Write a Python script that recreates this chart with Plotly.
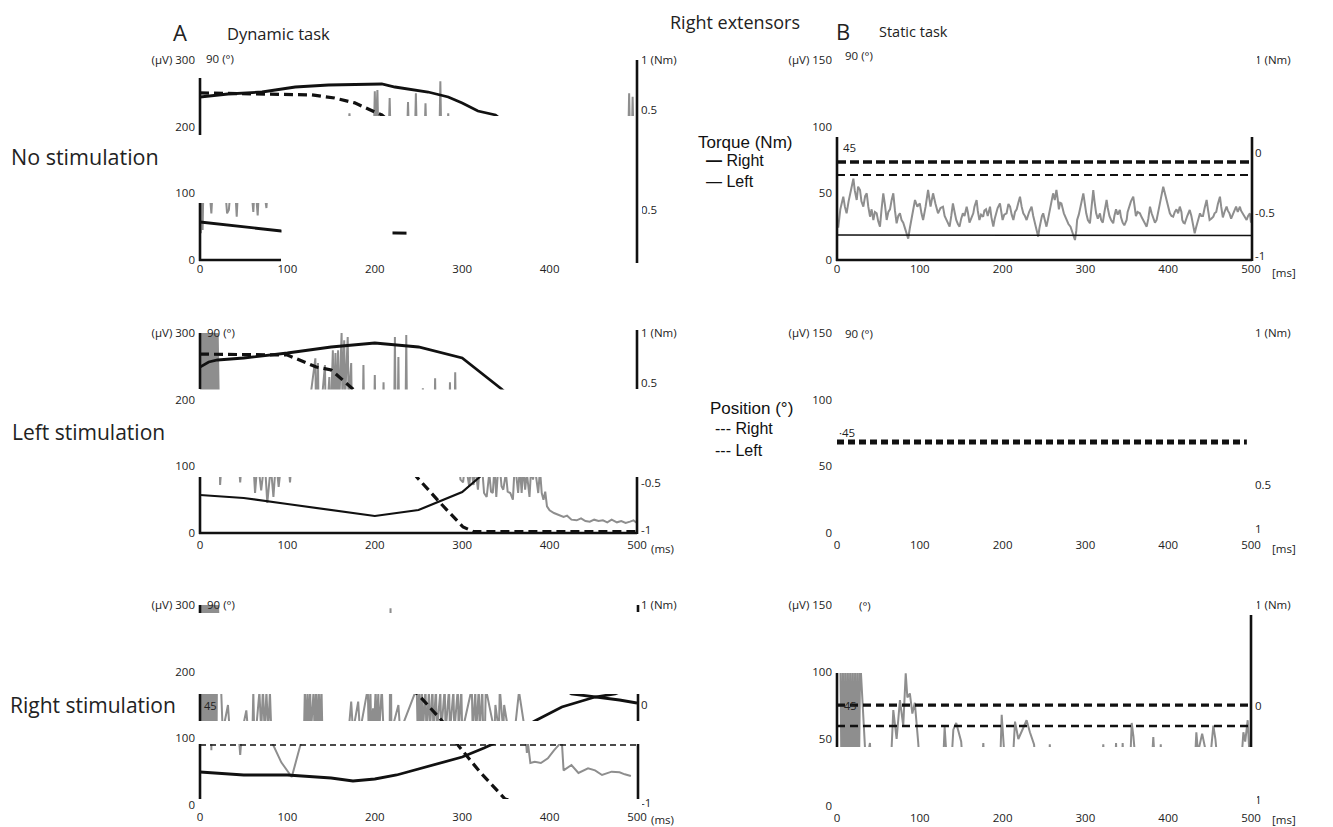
import plotly.graph_objects as go

W, H = 1333, 827

# ================= DATA =================
# ---- A1: dynamic task, no stimulation ----
a1_tqr_t = [0, 32, 71, 109, 147, 185, 208, 223, 261, 284, 300, 318, 338, 360, 400, 450, 500]
a1_tqr_nm = [0.63, 0.66, 0.68, 0.73, 0.75, 0.76, 0.76, 0.73, 0.68, 0.63, 0.57, 0.49, 0.45, 0.30, 0.10, 0.00, -0.05]
a1_tql_t = [0, 20, 50, 93, 150, 230, 300]
a1_tql_nm = [-0.62, -0.64, -0.67, -0.71, -0.72, -0.73, -0.74]
a1_posr_t = [0, 71, 128, 154, 177, 200, 208, 230]
a1_posr_deg = [75.2, 74.7, 74.3, 72.9, 70.7, 66.6, 65.3, 58]
a1_emg_t = [0, 1, 2, 3, 4, 6, 10, 13, 15, 20, 28, 31, 33, 36, 40, 42, 44, 50, 58, 61, 63, 66, 68, 72, 76, 78,
            85, 93, 120, 150, 169, 171, 173, 190, 199, 200, 201, 203, 204, 210, 216, 217, 218, 230, 237, 238,
            239, 246, 247, 248, 257, 258, 259, 274, 275, 276, 283, 284, 285, 300, 400, 490, 491, 492, 494,
            495, 496, 500]
a1_emg_uv = [120, 40, 120, 45, 120, 110, 120, 70, 120, 115, 120, 70, 75, 120, 115, 65, 120, 125, 120, 72, 120, 67,
             120, 118, 78, 120, 125, 120, 150, 170, 180, 220, 180, 185, 190, 253, 190, 255, 190, 190, 190, 243,
             190, 190, 190, 237, 190, 190, 250, 190, 190, 235, 190, 190, 268, 190, 190, 220, 190, 180, 160, 180,
             250, 180, 180, 245, 180, 180]

# ---- A2: dynamic task, left stimulation ----
a2_tqr_t = [0, 10, 20, 50, 100, 150, 200, 250, 300, 325, 345, 375, 400, 450, 500]
a2_tqr_nm = [0.66, 0.71, 0.73, 0.75, 0.80, 0.86, 0.90, 0.86, 0.75, 0.58, 0.44, 0.20, 0.05, -0.10, -0.20]
a2_tql_t = [0, 50, 100, 150, 200, 250, 300, 320, 350, 400, 500]
a2_tql_nm = [-0.62, -0.65, -0.71, -0.77, -0.83, -0.77, -0.59, -0.44, -0.20, 0.10, 0.30]
a2_posr_t = [0, 100, 133, 150, 175, 200, 225, 248, 275, 301, 313, 330, 500]
a2_posr_deg = [80.5, 80.1, 74.7, 73.4, 64.8, 52, 38, 25.2, 13.5, 2.7, 0.6, 0.6, 0.6]
a2_emg_t = [0, 1, 2, 3, 4, 5, 6, 7, 8, 9, 10, 11, 12, 13, 14, 15, 16, 17, 18, 19, 20,
            23, 26, 43, 46, 49, 60, 63, 66, 70, 74, 77, 81, 84, 87, 90, 95, 100, 103, 106, 120,
            132, 133, 135, 136, 143, 144, 148, 149, 152, 153, 155, 156, 158, 159, 162, 163, 165, 166,
            169, 170, 173, 174, 186, 187, 188, 199, 200, 201, 209, 210, 211, 222, 223, 224, 226, 227,
            228, 235, 236, 237, 254, 255, 256, 268, 269, 270, 285, 286, 287, 291, 292, 293,
            296, 298, 301, 303, 305, 308, 310, 313, 315, 318, 320, 323, 325, 328, 331, 333, 335, 337, 339,
            341, 343, 345, 347, 350, 352, 355, 358, 360, 362, 364, 366, 368, 370, 372, 374, 377, 379, 381,
            383, 385, 387, 389, 391, 393, 395, 397, 400, 405, 410, 416, 420, 425, 431, 436, 441, 446,
            451, 456, 461, 466, 471, 477, 482, 487, 492, 496, 500]
a2_emg_uv = [320, 150, 320, 150, 320, 150, 320, 150, 320, 150, 320, 150, 320, 150, 320, 150, 320, 150, 320, 150, 320,
             72, 130, 130, 76, 130, 130, 60, 110, 64, 110, 45, 100, 54, 110, 69, 130, 130, 76, 130, 140,
             262, 150, 255, 150, 252, 150, 234, 150, 274, 180, 270, 180, 274, 180, 300, 200, 289, 200,
             294, 200, 255, 150, 150, 252, 150, 150, 237, 150, 150, 226, 150, 150, 294, 150, 150, 264,
             150, 150, 297, 150, 150, 217, 150, 150, 232, 150, 150, 226, 150, 150, 241, 150,
             100, 80, 76, 100, 95, 70, 100, 72, 100, 65, 100, 95, 60, 54, 90, 62, 60, 100, 54,
             95, 100, 70, 65, 90, 62, 60, 50, 100, 85, 60, 100, 60, 100, 65, 90, 54, 100, 80,
             100, 76, 60, 95, 60, 50, 62, 40, 34, 30, 27, 24, 26, 20, 19, 22, 18, 17,
             20, 18, 19, 16, 20, 16, 18, 15, 17, 19, 15]

# ---- A3: dynamic task, right stimulation ----
a3_tqr_t = [0, 100, 200, 300, 350, 400, 425, 452, 480, 500]
a3_tqr_nm = [0.60, 0.70, 0.85, 0.60, 0.45, 0.25, 0.11, 0.08, 0.05, 0.02]
a3_tql_t = [0, 50, 100, 150, 175, 200, 225, 250, 300, 325, 335, 360, 383, 414, 452, 475, 500]
a3_tql_nm = [-0.67, -0.70, -0.70, -0.73, -0.76, -0.74, -0.70, -0.64, -0.52, -0.43, -0.39, -0.28, -0.16,
             -0.02, 0.08, 0.11, 0.20]
a3_posr_t = [0, 100, 150, 200, 249, 277, 294, 320, 349, 380, 500]
a3_posr_deg = [80, 78, 72, 62, 50, 37.8, 27.5, 15, 2.7, 0, 0]
a3_posl_t = [0, 500]
a3_posl_deg = [27.0, 27.0]
a3_emg_t = [0, 1, 2, 3, 4, 5, 6, 7, 8, 9, 10, 11, 12, 13, 14, 15, 16, 17, 18, 19, 20,
            26, 32, 34, 44, 46, 48, 53, 55, 60, 61, 62, 64, 68, 70, 72, 74, 76, 78, 80, 82, 93, 105, 110, 116,
            119, 120, 121, 123, 124, 126, 127, 130, 131, 133, 134, 136, 137, 139, 140, 170, 173, 175, 181, 183,
            192, 193, 195, 196, 198, 199, 201, 202, 204, 205, 208, 210, 217, 218, 219, 227, 229,
            248, 249, 251, 252, 254, 255, 258, 259, 262, 263, 266, 267, 270, 271, 275, 276, 280, 281, 285, 286,
            290, 291, 295, 296, 299, 300, 311, 312, 315, 316, 319, 320, 323, 324, 326, 327,
            337, 338, 342, 343, 347, 348, 353, 354, 360, 365, 372, 374, 375, 378, 383, 390, 398, 405, 414,
            416, 425, 433, 444, 452, 460, 471, 480, 486, 493, 500]
a3_emg_uv = [320, 110, 320, 110, 320, 110, 320, 110, 320, 110, 320, 110, 320, 82, 320, 110, 320, 110, 320, 110, 320,
             110, 150, 110, 110, 75, 110, 142, 110, 110, 170, 110, 110, 170, 110, 175, 110, 170, 110, 170, 95, 64,
             42, 67, 95,
             110, 175, 110, 170, 110, 175, 110, 172, 110, 175, 110, 170, 110, 175, 110, 110, 155, 110, 155, 110,
             175, 110, 170, 110, 145, 110, 175, 110, 168, 110, 175, 110, 110, 295, 110, 150, 110,
             175, 110, 175, 110, 172, 110, 175, 110, 170, 110, 175, 110, 175, 110, 170, 110, 175, 110, 175, 110,
             172, 110, 175, 110, 175, 110, 175, 110, 170, 110, 175, 110, 175, 110, 110,
             175, 110, 150, 110, 175, 110, 150, 110, 110, 110, 170, 110, 78, 95, 63, 65, 63, 70, 82,
             95, 52, 60, 48, 55, 52, 45, 50, 49, 46, 43.5]

# ---- B1: static task, no stimulation ----
b1_posr_t = [0, 500]
b1_posr_deg = [44.1, 44.1]
b1_posl_t = [0, 500]
b1_posl_deg = [38.3, 38.3]
b1_tql_t = [0, 250, 500]
b1_tql_nm = [-0.75, -0.75, -0.755]
b1_emg_t = [0, 1.6, 4, 7.6, 9.5, 11.6, 14, 16, 19.8, 21.5, 23.8, 25.5, 27.8, 29.5, 31.8, 34, 35.9, 37.8, 39.9,
            41.8, 43.9, 45.8, 47.9, 49.8, 51.9, 53.8, 55.9, 58, 60, 62, 64, 66, 68, 70, 72, 74, 76, 78, 80,
            83, 86, 88, 90, 92, 94.2, 97, 100, 102, 104, 107, 110, 113, 116, 119, 122, 125, 128, 130, 132,
            134, 136, 138, 140, 142, 144, 146, 148, 150, 152, 154, 156.6, 158, 160, 162, 164.6, 166, 168.6,
            170, 172, 174, 176.6, 178, 180, 182, 184.8, 186.5, 188.8, 190.5, 192, 194, 196.8, 198.5, 200, 202,
            204.8, 207, 209, 211, 213, 215, 217, 219, 221, 223, 225, 227, 229, 232, 235, 237, 239, 241, 243,
            244.5, 246, 247.5, 249, 251, 253, 255, 257, 259, 261, 263, 265, 266.5, 268, 269.5, 271, 274, 277,
            279.5, 282, 284.5, 287.4, 289, 290, 292, 293.5, 295.5, 297.5, 299, 301, 303, 305.5, 307.5, 309.5,
            311, 313, 315, 317.6, 319, 321, 323, 325.6, 327, 329, 331, 333.6, 335, 337, 339, 341.6, 343, 345,
            347, 349.8, 351, 353, 355, 357.8, 359, 361, 363, 365.8, 368, 370, 372, 374, 376, 378, 380, 382,
            384, 386, 388, 390, 392, 394, 396, 398, 400, 402, 404, 406, 408, 410, 412, 414, 416, 417, 418.5,
            420, 423, 426, 428, 429, 430.5, 432, 433.5, 435, 437, 438.4, 440, 442, 444, 446.4, 448, 450, 452,
            454.5, 456, 458, 460, 462.5, 464, 466, 468, 470.5, 472, 474, 476, 478.6, 480, 482, 484, 486.6, 488,
            490, 492, 494.7, 496.5, 498.7, 500]
b1_emg_uv = [25, 25, 38, 47.5, 40, 35, 44, 50, 61, 52, 45, 55, 52.5, 44, 40, 48, 50, 40, 32.5,
             38, 30, 36, 35, 29, 25, 38, 50, 41, 30, 36, 38, 45, 50, 37, 27.5, 33, 35, 30, 28,
             22, 16, 24, 30, 38, 45, 40, 42.5, 35, 30, 40, 52.5, 40, 50, 42, 35, 39, 40, 33, 30,
             27, 25, 33, 42.5, 36, 30, 27, 25, 31, 35, 33, 40, 36, 28, 31, 35, 40, 45,
             37, 30, 34, 32.5, 37, 38, 33, 40, 32, 25, 31, 35, 39, 42.5, 36, 30, 34,
             35, 42, 40, 34, 30, 36, 38, 43, 47.5, 40, 35, 33, 30, 36, 40, 33, 28, 23, 17.5,
             24, 30, 33, 35, 30, 25, 31, 38, 44, 50, 45, 52.5, 46, 38, 43, 42.5, 35, 30,
             27, 25, 20, 15, 22, 30, 34, 37.5, 44, 50, 42, 35, 30, 27.5, 40, 52.5,
             44, 35, 31, 35, 30, 28, 36, 45, 39, 33, 30, 27.5, 33, 38, 34, 37.5, 32, 28,
             26, 30, 36, 40, 44, 47.5, 40, 33, 36, 35, 32, 30, 28, 25, 31, 40, 35, 32,
             28, 30, 36, 42, 48, 55, 50, 45, 40, 35, 33, 32.5, 36, 38, 35, 40, 36, 30, 28,
             27.5, 33, 37.5, 33, 30, 25, 20, 24, 28, 32, 35, 33, 33, 39, 45, 38, 30, 31,
             32.5, 35, 36, 42, 47.5, 40, 32, 36, 40, 37, 35, 31, 35, 38, 40, 36, 40, 37,
             35, 32, 30, 33, 35, 28]

# ---- B2: static task, left stimulation ----
b2_posr_t = [0, 495]
b2_posr_deg = [41, 41]

# ---- B3: static task, right stimulation ----
b3_posr_t = [0, 500]
b3_posr_deg = [45.2, 45.2]
b3_posl_t = [0, 500]
b3_posl_deg = [35.8, 35.8]
b3_emg_t = [4, 5.5, 7, 8.5, 10, 11.5, 13, 14.5, 16, 17.5, 19, 20.5, 22, 23.5, 25, 26.5, 28,
            35, 39.8, 41, 65, 68, 72, 76, 80, 83, 85, 88, 91, 94, 98, 100, 128, 130, 133, 138, 140.5, 144,
            150, 152, 175, 176.7, 178, 197, 198.9, 201, 203, 212, 215, 219, 229, 233, 238, 240, 256, 257,
            258, 320, 321.6, 323, 336, 337, 338, 344, 345, 346, 354, 355.9, 358, 361, 380, 382, 384, 390,
            391, 392, 432, 434, 436, 441, 445, 450, 454.5, 457, 460, 488, 490.8, 493, 496, 498, 500]
b3_emg_uv = [110, 20, 110, 20, 110, 20, 110, 20, 110, 20, 110, 20, 110, 20, 110, 20, 110,
             30, 47, 30, 30, 71.6, 50, 79, 60, 99, 81, 84, 69, 77, 48, 30, 30, 59, 30, 30, 57, 62,
             48, 30, 30, 47, 30, 30, 68, 47, 30, 30, 63, 50, 64, 55, 46, 30, 30, 46,
             30, 30, 46, 30, 30, 47, 30, 30, 47, 30, 30, 62, 52, 30, 30, 51.5, 30, 30,
             46, 30, 30, 55, 40, 54, 42, 30, 60, 50, 30, 30, 55, 48, 64, 40, 30]

# axis tick labels
a_uv_vals = [0, 100, 200, 300]
a_uv_text = ["0", "100", "200", "(µV) 300"]
b_uv_vals = [0, 50, 100, 150]
b_uv_text = ["0", "50", "100", "(µV) 150"]
a1_time_ticks = [0, 100, 200, 300, 400]
time_ticks = [0, 100, 200, 300, 400, 500]

# ================= LAYOUT HELPERS =================
# page pixel -> paper fraction (the page body adds an 8 px offset)
OFF = 8


def fx(px):
    return (px - OFF) / W


def fy(py):
    return 1 - (py - OFF) / H


GRAY = "#8e8e8e"
BLACK = "#111111"
FONT = "Open Sans, Liberation Sans, sans-serif"
TICKFONT = dict(family=FONT, size=11.5, color="#222")
XTICKFONT = dict(family=FONT, size=11.5, color="#222")

panels = [
    dict(xr=(200, 637), yr=(60, 260), uvmax=300, uvv=a_uv_vals, uvt=a_uv_text, xt=a1_time_ticks, xso=0,
         nmv=[1, 0.5, -0.5], nmt=["1 (Nm)", "0.5", "0.5"]),
    dict(xr=(200, 637), yr=(333, 533), uvmax=300, uvv=a_uv_vals, uvt=a_uv_text, xt=time_ticks, xso=3,
         nmv=[1, 0.5, -0.5, -0.97], nmt=["1 (Nm)", "0.5", "-0.5", "-1"]),
    dict(xr=(200, 637), yr=(605, 805), uvmax=300, uvv=a_uv_vals, uvt=a_uv_text, xt=time_ticks, xso=3,
         nmv=[1, 0, -0.98], nmt=["1 (Nm)", "0", "-1"]),
    dict(xr=(837, 1251), yr=(60, 260), uvmax=150, uvv=b_uv_vals, uvt=b_uv_text, xt=time_ticks, xso=0,
         nmv=[1, 0.07, -0.53, -0.96], nmt=["1 (Nm)", "0", "-0.5", "-1"]),
    dict(xr=(837, 1251), yr=(333, 533), uvmax=150, uvv=b_uv_vals, uvt=b_uv_text, xt=time_ticks, xso=3,
         nmv=[1, -0.52, -0.96], nmt=["1 (Nm)", "0.5", "1"]),
    dict(xr=(837, 1251), yr=(605, 806), uvmax=150, uvv=b_uv_vals, uvt=b_uv_text, xt=time_ticks, xso=3,
         nmv=[1, 0, -0.94], nmt=["1 (Nm)", "0", "1"]),
]


def yname(k):
    return "y" + ("" if k == 1 else str(k))


def xname(k):
    return "x" + ("" if k == 1 else str(k))


layout = dict(
    template="none",
    width=W, height=H, autosize=False,
    margin=dict(l=0, r=0, t=0, b=0, pad=0),
    paper_bgcolor="white", plot_bgcolor="rgba(0,0,0,0)",
    showlegend=False, hovermode=False,
)

for i, p in enumerate(panels):
    xn = i + 1
    yuv, ydeg, ynm = 3 * i + 1, 3 * i + 2, 3 * i + 3
    xdom = [fx(p["xr"][0]), fx(p["xr"][1])]
    ydom = [fy(p["yr"][1]), fy(p["yr"][0])]
    common = dict(showline=False, showgrid=False, zeroline=False, ticks="", automargin=False, fixedrange=True)
    layout["xaxis" + xname(xn)[1:]] = dict(
        domain=xdom, range=[0, 500], anchor=yname(yuv),
        tickmode="array", tickvals=p["xt"], ticktext=[str(v) for v in p["xt"]], ticklabelstandoff=p["xso"],
        tickfont=XTICKFONT, **common)
    layout["yaxis" + yname(yuv)[1:]] = dict(
        domain=ydom, range=[0, p["uvmax"]], anchor=xname(xn), side="left",
        tickmode="array", tickvals=p["uvv"], ticktext=p["uvt"], ticklabelstandoff=4,
        tickfont=TICKFONT, **common)
    layout["yaxis" + str(ydeg)] = dict(
        domain=ydom, range=[0, 90], anchor=xname(xn), overlaying=yname(yuv),
        visible=False, automargin=False, fixedrange=True)
    layout["yaxis" + str(ynm)] = dict(
        domain=ydom, range=[-1, 1], anchor=xname(xn), overlaying=yname(yuv), side="right",
        tickmode="array", tickvals=p["nmv"], ticktext=p["nmt"], ticklabelstandoff=3,
        tickfont=TICKFONT, **common)

fig = go.Figure()


def add(panel, kind, t, v, style):
    i = panel
    idx = {"uv": 3 * i + 1, "deg": 3 * i + 2, "nm": 3 * i + 3}[kind]
    fig.add_trace(go.Scatter(x=t, y=v, mode="lines", line=style, hoverinfo="skip",
                             xaxis=xname(i + 1), yaxis=yname(idx)))


# register every subplot (empty traces)
for i in range(len(panels)):
    for kind in ("uv", "deg", "nm"):
        add(i, kind, [], [], dict(color="rgba(0,0,0,0)", width=0))

emg_style = dict(color=GRAY, width=2)
thick_solid = dict(color=BLACK, width=2.8)
thin_solid = dict(color=BLACK, width=1.6)
thick_dash = dict(color=BLACK, width=3.2, dash="9px,5px")
thin_dash = dict(color=BLACK, width=2.0, dash="8px,5px")

# A1
add(0, "uv", a1_emg_t, a1_emg_uv, emg_style)
add(0, "nm", a1_tqr_t, a1_tqr_nm, thick_solid)
add(0, "nm", a1_tql_t, a1_tql_nm, thick_solid)
add(0, "deg", a1_posr_t, a1_posr_deg, thick_dash)
# A2
add(1, "uv", a2_emg_t, a2_emg_uv, emg_style)
add(1, "nm", a2_tqr_t, a2_tqr_nm, thick_solid)
add(1, "nm", a2_tql_t, a2_tql_nm, dict(color=BLACK, width=2.2))
add(1, "deg", a2_posr_t, a2_posr_deg, thick_dash)
# A3
add(2, "uv", a3_emg_t, a3_emg_uv, emg_style)
add(2, "nm", a3_tqr_t, a3_tqr_nm, thick_solid)
add(2, "nm", a3_tql_t, a3_tql_nm, thick_solid)
add(2, "deg", a3_posl_t, a3_posl_deg, dict(color=BLACK, width=1.3, dash="6px,4px"))
add(2, "deg", a3_posr_t, a3_posr_deg, thick_dash)
# B1
add(3, "uv", b1_emg_t, b1_emg_uv, emg_style)
add(3, "nm", b1_tql_t, b1_tql_nm, thin_solid)
add(3, "deg", b1_posl_t, b1_posl_deg, thin_dash)
add(3, "deg", b1_posr_t, b1_posr_deg, dict(color=BLACK, width=3.6, dash="9px,4px"))
# B2
add(4, "deg", b2_posr_t, b2_posr_deg, dict(color=BLACK, width=5, dash="7px,4px"))
# B3
add(5, "uv", b3_emg_t, b3_emg_uv, emg_style)
add(5, "deg", b3_posl_t, b3_posl_deg, dict(color=BLACK, width=2.6, dash="8px,5px"))
add(5, "deg", b3_posr_t, b3_posr_deg, dict(color=BLACK, width=3.2, dash="8px,5px"))

# ---- erased (blank) bands of the original figure ----
erase_px = [
    (196, 50, 642, 77.5), (196, 116, 642, 203),
    (281.5, 202.5, 392.5, 262), (406.5, 202.5, 642, 262), (392, 202.5, 407, 229.5), (392, 236.5, 407, 262),
    (196, 389.5, 642, 477),
    (196, 598, 642, 605), (196, 613, 642, 694), (196, 721, 642, 744), (196, 799, 642, 807),
    (832, 48, 1257, 137),
    (832, 596, 1257, 673), (832, 747, 1257, 808),
]
shapes = [
    dict(type="rect", xref="paper", yref="paper", x0=fx(a), x1=fx(c), y0=fy(d), y1=fy(b),
         fillcolor="white", line=dict(width=0), layer="above")
    for (a, b, c, d) in erase_px
]

# visible pieces of the (broken) axis frame lines: (x0, y0, x1, y1) in page pixels
frame_px = [
    # A1
    (200, 78, 200, 135), (200, 203, 200, 261), (637, 60, 637, 263), (199, 260, 281, 260),
    # A2
    (200, 333, 200, 389), (200, 477, 200, 534), (637, 330, 637, 389), (637, 477, 637, 534), (199, 533, 637, 533),
    # A3
    (200, 605, 200, 613), (200, 694, 200, 721), (200, 744, 200, 799),
    (638, 605, 638, 612), (638, 694, 638, 721), (638, 744, 638, 799),
    # B1
    (837, 137, 837, 261), (1252, 137, 1252, 261), (836, 260, 1252, 260),
    # B3
    (837, 673, 837, 747), (1251, 615, 1251, 747),
]
shapes += [
    dict(type="line", xref="paper", yref="paper", x0=fx(a), x1=fx(c), y0=fy(b), y1=fy(d),
         line=dict(color=BLACK, width=2.6), layer="above")
    for (a, b, c, d) in frame_px
]
layout["shapes"] = shapes


def ann(text, x, y, size=12, xanchor="left", family=FONT, color="#222"):
    return dict(text=text, x=fx(x), y=fy(y), xref="paper", yref="paper", showarrow=False,
                xanchor=xanchor, yanchor="middle", font=dict(family=family, size=size, color=color))


SANS = "Liberation Sans, Arial, sans-serif"
annotations = [
    ann("A", 180, 32, 22, "center"),
    ann("Dynamic task", 225, 33, 16.5),
    ann("Right extensors", 735, 22, 18, "center"),
    ann("B", 843, 31, 22, "center"),
    ann("Static task", 877, 32, 14.5),
    ann("No stimulation", 9, 156, 21.5),
    ann("Left stimulation", 10, 432, 21),
    ann("Right stimulation", 8, 705, 21),
    ann("Torque (Nm)", 696, 142, 17, family=SANS, color="#111"),
    ann("<b>—</b> Right", 704, 161, 16, family=SANS, color="#111"),
    ann("— Left", 704, 181, 16, family=SANS, color="#111"),
    ann("Position (°)", 708, 408, 17, family=SANS, color="#111"),
    ann("--- Right", 713, 429, 16, family=SANS, color="#111"),
    ann("--- Left", 713, 450, 16, family=SANS, color="#111"),
    ann("90 (°)", 204, 58, 11.5),
    ann("90 (°)", 205, 332, 11.5),
    ann("90 (°)", 205, 604, 11.5),
    ann("90 (°)", 843, 55, 11.5),
    ann("90 (°)", 843, 333, 11.5),
    ann("(°)", 857, 605, 11.5),
    ann("45", 202, 705, 11),
    ann("45", 841, 148, 11.5),
    ann("·45", 837, 432, 11.5),
    ann("45", 842, 705, 11),
    ann("(ms)", 649, 548, 11.5),
    ann("(ms)", 649, 819, 11.5),
    ann("[ms]", 1270, 272, 11.5),
    ann("[ms]", 1270, 548, 11.5),
    ann("[ms]", 1270, 819, 11.5),
]
layout["annotations"] = annotations

fig.update_layout(**layout)
fig.write_html("out.html")
